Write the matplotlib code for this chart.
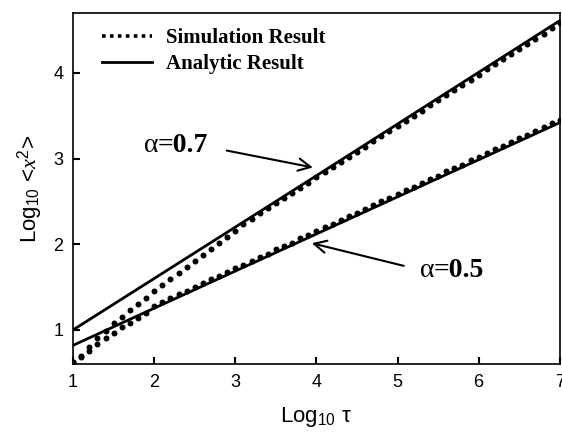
import matplotlib
matplotlib.use("Agg")
import matplotlib.pyplot as plt
from matplotlib.lines import Line2D

plt.rcParams['mathtext.fontset'] = 'custom'
plt.rcParams['mathtext.rm'] = 'Liberation Sans'
plt.rcParams['mathtext.it'] = 'Liberation Serif:italic'

# log10(tau) sample points of the simulation, step 0.1
log_tau = [1.0 + 0.1 * i for i in range(61)]

sim_07 = [0.62, 0.70, 0.80, 0.90, 0.99, 1.08, 1.15, 1.23, 1.30, 1.37,
          1.45, 1.52, 1.59, 1.66, 1.73, 1.80, 1.88, 1.95, 2.02, 2.09,
          2.16, 2.24, 2.30, 2.36, 2.42, 2.48, 2.54, 2.60, 2.66, 2.72,
          2.78, 2.84, 2.90, 2.96, 3.02, 3.08, 3.14, 3.20, 3.26, 3.32,
          3.38, 3.44, 3.50, 3.56, 3.62, 3.68, 3.74, 3.80, 3.86, 3.92,
          3.98, 4.04, 4.10, 4.16, 4.22, 4.28, 4.34, 4.40, 4.46, 4.52,
          4.58]

sim_05 = [0.62, 0.68, 0.75, 0.84, 0.90, 0.96, 1.03, 1.08, 1.14, 1.20,
          1.28, 1.33, 1.37, 1.42, 1.46, 1.50, 1.55, 1.59, 1.63, 1.68,
          1.72, 1.76, 1.81, 1.85, 1.89, 1.94, 1.98, 2.02, 2.07, 2.11,
          2.15, 2.20, 2.24, 2.28, 2.33, 2.37, 2.41, 2.46, 2.50, 2.54,
          2.59, 2.63, 2.67, 2.72, 2.76, 2.80, 2.85, 2.89, 2.93, 2.98,
          3.02, 3.06, 3.11, 3.15, 3.19, 3.24, 3.28, 3.32, 3.37, 3.41,
          3.45]

# analytic results (straight lines)
ana_x = [1.0, 4.0, 7.0]
ana_07 = [1.00, 2.80, 4.61]
ana_05 = [0.82, 2.12, 3.42]

xticks = [1, 2, 3, 4, 5, 6, 7]
yticks = [1, 2, 3, 4]

fig = plt.figure(figsize=(5.62, 4.32), dpi=100)
ax = fig.add_axes([0.130, 0.157, 0.866, 0.813])

ax.plot(ana_x, ana_07, color='black', lw=2.0)
ax.plot(ana_x, ana_05, color='black', lw=2.0)
ax.plot(log_tau, sim_07, 'o', color='black', ms=4.3, mew=0)
ax.plot(log_tau, sim_05, 'o', color='black', ms=4.3, mew=0)

ax.set_xlim(1, 7)
ax.set_ylim(0.6, 4.7)
ax.set_xticks(xticks)
ax.set_yticks(yticks)
ax.tick_params(direction='in', length=5, width=1.5, labelsize=13, pad=7,
               top=False, right=False)
for lab in ax.get_xticklabels() + ax.get_yticklabels():
    lab.set_fontfamily('Liberation Sans')
for sp in ax.spines.values():
    sp.set_linewidth(1.2)

ax.set_xlabel('Log$_{10}$ \u03c4', fontsize=16, fontfamily='Liberation Sans', labelpad=10)
ax.set_ylabel(r'Log$_{10}$ <$x^{\mathrm{2}}$>', fontsize=16, fontfamily='Liberation Sans', labelpad=6)

handles = [Line2D([], [], color='black', ls=(0, (1, 1.2)), lw=2.6),
           Line2D([], [], color='black', ls='-', lw=2.0)]
ax.legend(handles, ['Simulation Result', 'Analytic Result'], loc='upper left',
          bbox_to_anchor=(0.02, 1.01), frameon=False, handlelength=2.4,
          handletextpad=0.7, labelspacing=0.3,
          prop={'family': 'Liberation Serif', 'weight': 'bold', 'size': 15})

serif = 'Liberation Serif'
ax.text(1.88, 3.15, '\u03b1', fontsize=20, fontfamily=serif, va='center')
ax.text(2.04, 3.15, '=0.7', fontsize=20, fontfamily=serif, weight='bold', va='center')
ax.annotate('', xy=(3.99, 2.89), xytext=(2.86, 3.10),
            arrowprops=dict(arrowstyle='->', color='black', lw=1.5, mutation_scale=22))

ax.text(5.28, 1.69, '\u03b1', fontsize=20, fontfamily=serif, va='center')
ax.text(5.44, 1.69, '=0.5', fontsize=20, fontfamily=serif, weight='bold', va='center')
ax.annotate('', xy=(3.91, 2.02), xytext=(5.11, 1.74),
            arrowprops=dict(arrowstyle='->', color='black', lw=1.5, mutation_scale=22))

fig.savefig('out.png', dpi=100)
